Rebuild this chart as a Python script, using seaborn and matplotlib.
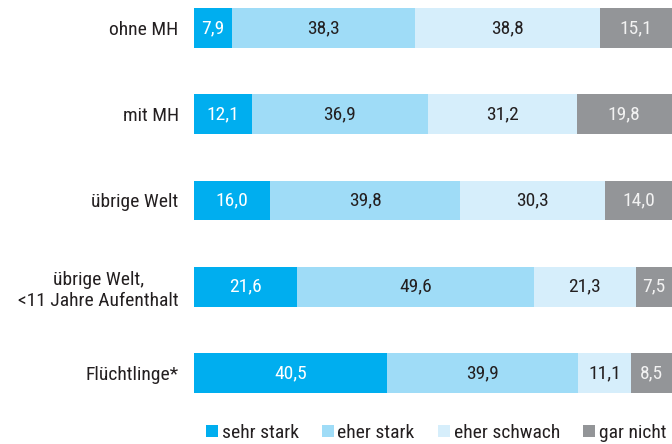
import numpy as np
import pandas as pd
import matplotlib
matplotlib.use("Agg")
import matplotlib.pyplot as plt
from matplotlib.patches import Patch
import seaborn as sns

# Daten
categories = ["ohne MH", "mit MH", "übrige Welt",
              "übrige Welt,\n<11 Jahre Aufenthalt", "Flüchtlinge*"]
sehr_stark = [7.9, 12.1, 16.0, 21.6, 40.5]
eher_stark = [38.3, 36.9, 39.8, 49.6, 39.9]
eher_schwach = [38.8, 31.2, 30.3, 21.3, 11.1]
gar_nicht = [15.1, 19.8, 14.0, 7.5, 8.5]
series_names = ["sehr stark", "eher stark", "eher schwach", "gar nicht"]

colors = ["#00aeef", "#9fdcf7", "#d6eefb", "#939598"]
text_colors = ["white", "#231f20", "#231f20", "#f2f2f2"]
FS = 14

sns.set_style("white")
plt.rcParams["font.family"] = ["Roboto Condensed", "DejaVu Sans"]

df = pd.DataFrame({"cat": categories, "sehr stark": sehr_stark,
                   "eher stark": eher_stark, "eher schwach": eher_schwach,
                   "gar nicht": gar_nicht})
cum = df[series_names].cumsum(axis=1)

fig = plt.figure(figsize=(6.72, 4.44), dpi=100)
ax = fig.add_axes([194 / 672, 1 - 407.5 / 444, 1 - 194 / 672, 407.5 / 444])

# gestapelt: groesste Summe zuerst zeichnen
for name, col in reversed(list(zip(series_names, colors))):
    sns.barplot(x=cum[name], y=df["cat"], color=col, orient="h",
                width=0.46, ax=ax, saturation=1, linewidth=0)

# Werte beschriften
for j, name in enumerate(series_names):
    for i in range(len(categories)):
        val = df[name].iloc[i]
        mid = cum[name].iloc[i] - val / 2
        ax.text(mid, i, f"{val:.1f}".replace(".", ","), ha="center",
                va="center", fontsize=FS, color=text_colors[j])

ax.set_xlim(0, 100.1)
ax.set_ylim(4.4, -0.3246)
ax.set_xlabel("")
ax.set_ylabel("")
ax.set_xticks([])
sns.despine(ax=ax, left=True, bottom=True)
ax.tick_params(axis="y", length=0, pad=11, labelsize=FS, labelcolor="#231f20")
for lab in ax.get_yticklabels():
    lab.set_multialignment("center")

handles = [Patch(facecolor=c, edgecolor="none", label=n) for n, c in zip(series_names, colors)]
fig.legend(handles=handles, loc="center", bbox_to_anchor=(0.649, 0.025), ncol=4,
           frameon=False, handlelength=0.6, handleheight=0.6, handletextpad=0.2,
           columnspacing=1.2, fontsize=FS, labelcolor="#231f20")

fig.savefig("out.png", dpi=100)
